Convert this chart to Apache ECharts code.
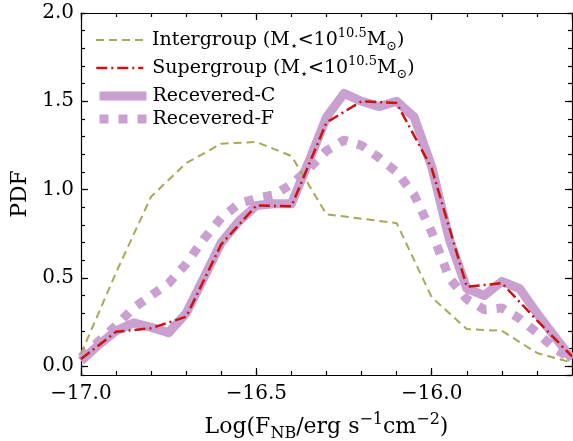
<!DOCTYPE html>
<html><head><meta charset="utf-8">
<script src="https://cdn.jsdelivr.net/npm/echarts@6/dist/echarts.min.js"></script>
<style>html,body{margin:0;padding:0;background:#fff}#c{width:573px;height:441px}</style>
</head><body><div id="c"></div>
<script>
// ---- data ----
const interX = [-17.0,-16.9,-16.8,-16.7,-16.6,-16.5,-16.4,-16.3,-16.1,-16.0,-15.9,-15.8,-15.7,-15.6];
const interY = [0.07,0.53,0.96,1.15,1.26,1.27,1.19,0.86,0.81,0.39,0.21,0.20,0.075,0.02];
const superX = [-17.0,-16.9,-16.8,-16.7,-16.6,-16.5,-16.4,-16.3,-16.2,-16.1,-16.0,-15.9,-15.8,-15.7,-15.6];
const superY = [0.04,0.195,0.215,0.28,0.69,0.91,0.905,1.38,1.50,1.49,1.12,0.45,0.47,0.26,0.055];
const recX = [-17.0,-16.95,-16.9,-16.85,-16.8,-16.75,-16.7,-16.65,-16.6,-16.55,-16.5,-16.45,-16.4,-16.35,-16.3,-16.25,-16.2,-16.15,-16.1,-16.05,-16.0,-15.95,-15.9,-15.85,-15.8,-15.75,-15.7,-15.65,-15.6];
const recCY = [0.03,0.12,0.20,0.245,0.22,0.19,0.30,0.50,0.70,0.82,0.91,0.92,0.92,1.16,1.41,1.545,1.50,1.47,1.50,1.41,1.13,0.72,0.44,0.40,0.48,0.44,0.30,0.17,0.04];
const recFY = [0.05,0.14,0.23,0.33,0.40,0.47,0.58,0.72,0.84,0.92,0.95,0.97,1.03,1.12,1.22,1.28,1.25,1.18,1.10,0.97,0.76,0.50,0.38,0.32,0.33,0.27,0.19,0.10,0.04];
const seriesNames = ['Intergroup','Supergroup','Recevered-C','Recevered-F'];
const xMin = -17.0, xMax = -15.6, yMin = -0.05, yMax = 2.0;

const FONT = 'DejaVu Serif';
const OLIVE = '#a8a85a', RED = '#cc1111', PLUM = '#c9a0d0';
const zip = (xs, ys) => xs.map((x, i) => [x, ys[i]]);
const fmt = v => (v < 0 ? '\u2212' : '') + Math.abs(v).toFixed(1);

const black = {color:'#000', width:1.2};
function xAx(pos, major) {
  return {
    type:'value', position:pos, min:xMin, max:xMax, interval: major ? 0.5 : 0.1,
    axisLine:{show: major, lineStyle:black, onZero:false},
    axisTick:{show:true, inside:true, length: major ? 7 : 4, lineStyle:black},
    axisLabel:{show: major && pos==='bottom', showMaxLabel:false, formatter:fmt, fontFamily:FONT, fontSize:20, color:'#000', margin:9},
    splitLine:{show:false},
    name: (major && pos==='bottom') ? 'Log(F{sub|NB}/erg s{sup|\u22121}cm{sup|\u22122})' : '',
    nameLocation:'middle', nameGap:37,
    nameTextStyle:{fontFamily:FONT, fontSize:22, color:'#000', lineHeight:30,
      rich:{sub:{fontFamily:FONT, fontSize:16, verticalAlign:'bottom', lineHeight:16, color:'#000'},
            sup:{fontFamily:FONT, fontSize:16, verticalAlign:'top', lineHeight:16, color:'#000'}}}
  };
}
function yAx(pos, major) {
  return {
    type:'value', position:pos, min:yMin, max:yMax, splitNumber: major ? 5 : 20,
    axisLine:{show: major, lineStyle:black, onZero:false},
    axisTick:{show:true, inside:true, length: major ? 7 : 4, lineStyle:black},
    axisLabel:{show: major && pos==='left', showMinLabel:false, formatter:fmt, fontFamily:FONT, fontSize:20, color:'#000', margin:7},
    splitLine:{show:false},
    name: (major && pos==='left') ? 'PDF' : '',
    nameLocation:'middle', nameGap:48, nameRotate:90,
    nameTextStyle:{fontFamily:FONT, fontSize:22, color:'#000'}
  };
}

const legendText = {
  'Intergroup': 'Intergroup (M{s|\u22c6}<10{p|10.5}M{s|\u2299})',
  'Supergroup': 'Supergroup (M{s|\u22c6}<10{p|10.5}M{s|\u2299})',
  'Recevered-C': 'Recevered-C',
  'Recevered-F': 'Recevered-F'
};
const legendStyles = [
  {color:OLIVE, width:2, type:[8,5]},
  {color:RED, width:2.5, type:[11,4,2,4]},
  {color:PLUM, width:9, type:'solid'},
  {color:PLUM, width:9, type:[9,10]}
];
const legendCenters = [40, 68, 96, 119];
const legendPads = [4, 4, 1, 1];
const legends = seriesNames.map((n, i) => ({
  data:[n], left:95, top: legendCenters[i] - 13, padding:0, itemWidth:47, itemHeight:14,
  selectedMode:false,
  lineStyle: legendStyles[i], itemStyle:{opacity:0},
  formatter: name => legendText[name],
  textStyle:{fontFamily:FONT, fontSize:19, color:'#000', lineHeight:26, padding:[0,0,0,legendPads[i]],
    rich:{s:{fontFamily:FONT, fontSize:13, verticalAlign:'bottom', lineHeight:12, color:'#000'},
          p:{fontFamily:FONT, fontSize:13, verticalAlign:'top', lineHeight:13, color:'#000'}}}
}));

const chart = echarts.init(document.getElementById('c'), null, {renderer:'canvas'});
chart.setOption({
  animation:false,
  backgroundColor:'#fff',
  grid:{left:81, right:1, top:13, bottom:66, containLabel:false, outerBoundsMode:'none'},
  xAxis:[xAx('bottom',true), xAx('bottom',false), xAx('top',true), xAx('top',false)],
  yAxis:[yAx('left',true), yAx('left',false), yAx('right',true), yAx('right',false)],
  legend: legends,
  series:[
    {name:'Intergroup', type:'line', data:zip(interX, interY), symbol:'none', z:4,
     lineStyle:{color:OLIVE, width:2, type:[8,5]}},
    {name:'Supergroup', type:'line', data:zip(superX, superY), symbol:'none', z:5,
     lineStyle:{color:RED, width:2.5, type:[11,4,2,4]}},
    {name:'Recevered-C', type:'line', data:zip(recX, recCY), symbol:'none', z:2,
     lineStyle:{color:PLUM, width:9, type:'solid', join:'round'}},
    {name:'Recevered-F', type:'line', data:zip(recX, recFY), symbol:'none', z:3,
     lineStyle:{color:PLUM, width:9, type:[9,10], cap:'butt'}}
  ]
});
</script></body></html>
